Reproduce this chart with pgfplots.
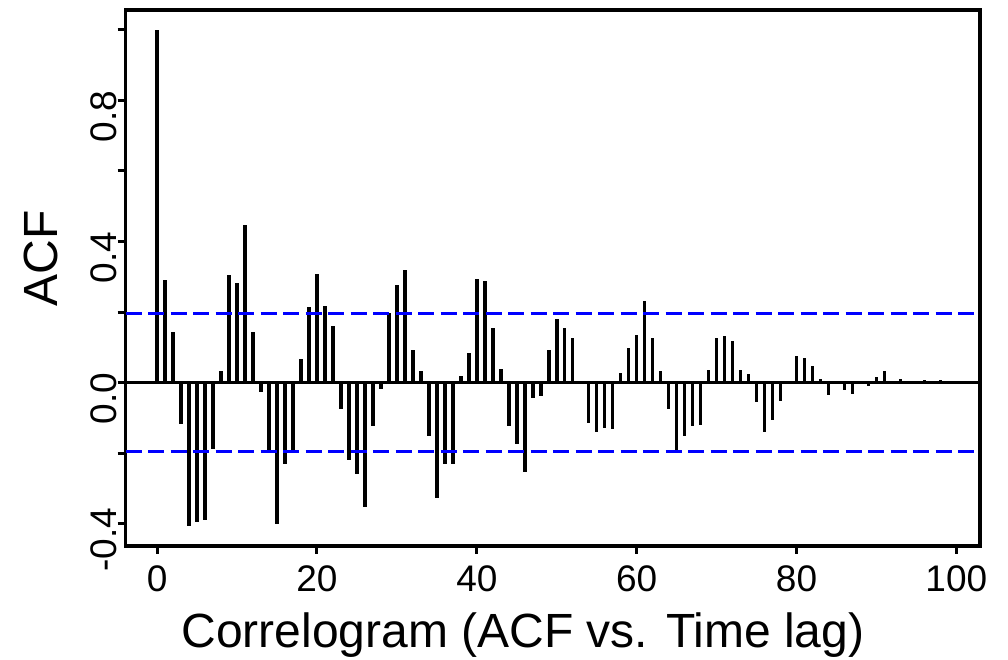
\documentclass[border=0pt]{standalone}
\usepackage{pgfplots}
\pgfplotsset{compat=1.18}
\usepackage{fontspec}
\setmainfont{Liberation Sans}
\pgfplotstableread{
lag acf
0 1.000
1 0.291
2 0.144
3 -0.118
4 -0.407
5 -0.396
6 -0.391
7 -0.188
8 0.033
9 0.306
10 0.281
11 0.447
12 0.142
13 -0.027
14 -0.200
15 -0.400
16 -0.232
17 -0.194
18 0.068
19 0.214
20 0.307
21 0.218
22 0.159
23 -0.076
24 -0.219
25 -0.260
26 -0.354
27 -0.123
28 -0.018
29 0.197
30 0.278
31 0.318
32 0.092
33 0.033
34 -0.151
35 -0.326
36 -0.231
37 -0.230
38 0.020
39 0.083
40 0.295
41 0.287
42 0.154
43 0.038
44 -0.123
45 -0.174
46 -0.254
47 -0.043
48 -0.037
49 0.091
50 0.179
51 0.155
52 0.126
53 -0.003
54 -0.115
55 -0.139
56 -0.130
57 -0.132
58 0.027
59 0.098
60 0.134
61 0.230
62 0.126
63 0.033
64 -0.074
65 -0.196
66 -0.151
67 -0.124
68 -0.120
69 0.037
70 0.127
71 0.133
72 0.117
73 0.037
74 0.024
75 -0.054
76 -0.141
77 -0.105
78 -0.051
79 0.002
80 0.074
81 0.069
82 0.046
83 0.011
84 -0.035
85 -0.003
86 -0.021
87 -0.032
88 -0.003
89 -0.009
90 0.017
91 0.032
92 0.005
93 0.010
94 0.003
95 -0.004
96 0.008
97 0.002
98 0.006
99 0.001
}\acftable
\begin{document}
\begin{tikzpicture}
\useasboundingbox (0,0) rectangle (1008pt,660pt);
\begin{axis}[
  at={(125.5pt,114pt)}, anchor=south west,
  scale only axis, width=854.5pt, height=536pt,
  xmin=-3.96, xmax=102.96, ymin=-0.4633, ymax=1.0563,
  axis line style={line width=3.5pt},
  tick align=outside, major tick length=8pt,
  xtick pos=bottom, ytick pos=left,
  tick style={line width=3pt, black},
  xtick={0,20,40,60,80,100},
  xticklabels={0,20,40,60,80,100},
  ytick={-0.4,-0.2,0,0.2,0.4,0.6,0.8,1.0},
  yticklabels={-0.4,,0.0,,0.4,,0.8,},
  xticklabel style={font=\fontsize{37}{40}\selectfont, anchor=base, inner sep=0pt, yshift=-37pt},
  yticklabel style={font=\fontsize{37}{40}\selectfont, rotate=90, anchor=south, inner sep=0pt, xshift=-16pt},
  xlabel={Correlogram (ACF vs. Time lag)},
  ylabel={ACF},
  label style={font=\fontsize{48}{52}\selectfont},
  xlabel style={at={(axis description cs:0.4652,-0.190)}, anchor=base},
  ylabel style={at={(axis description cs:-0.079,0.537)}, anchor=base},
  clip=true,
]
\addplot[ycomb, black, line width=3.5pt, no markers] table[x=lag, y=acf] {\acftable};
\addplot[black, line width=3pt, no markers] coordinates {(-3.96,0) (102.96,0)};
\addplot[blue, line width=3.5pt, dash pattern=on 16pt off 6.5pt, no markers] coordinates {(-3.96,0.196) (102.96,0.196)};
\addplot[blue, line width=3.5pt, dash pattern=on 16pt off 6.5pt, no markers] coordinates {(-3.96,-0.196) (102.96,-0.196)};
\end{axis}
\end{tikzpicture}
\end{document}
